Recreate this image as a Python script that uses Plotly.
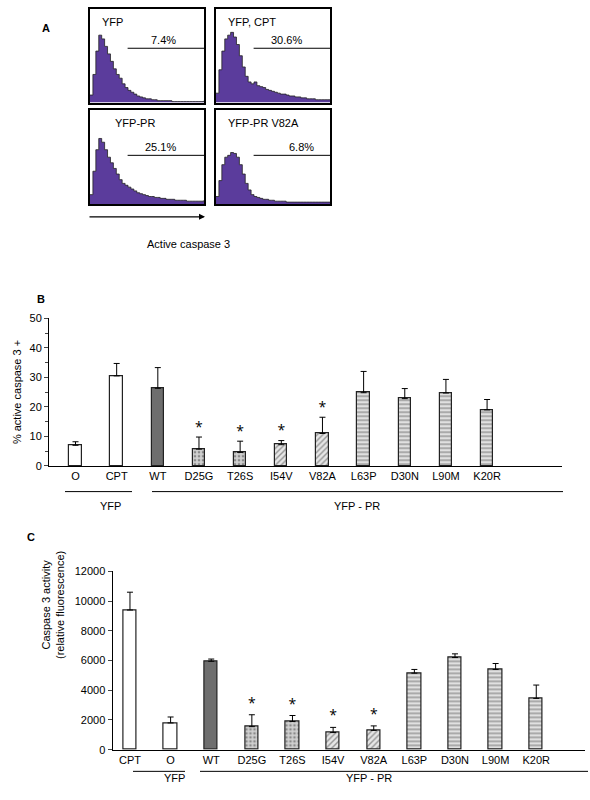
import plotly.graph_objects as go

# Panel A: flow histograms (bin heights, % of frame height), gate and percentages
hist_names = ["YFP", "YFP, CPT", "YFP-PR", "YFP-PR V82A"]
hist_pct = ["7.4%", "30.6%", "25.1%", "6.8%"]
hist_yfp = [8, 30, 55, 72, 68, 60, 52, 44, 36, 30, 26, 20, 16, 13, 11, 9, 7, 6, 5, 4, 4, 3, 3, 2, 2, 2, 2, 2, 1, 1, 1, 1, 1, 1, 1, 1, 1, 1, 1, 2]
hist_cpt = [10, 35, 55, 68, 72, 75, 70, 62, 50, 38, 28, 22, 20, 22, 18, 17, 16, 14, 13, 12, 11, 10, 9, 9, 8, 7, 7, 6, 6, 5, 5, 4, 4, 4, 3, 3, 3, 3, 3, 3]
hist_pr = [10, 35, 58, 70, 66, 58, 50, 44, 38, 32, 26, 22, 20, 18, 16, 14, 12, 11, 10, 9, 8, 8, 7, 7, 6, 6, 5, 5, 5, 4, 4, 4, 4, 3, 3, 3, 3, 3, 3, 4]
hist_v82a = [8, 25, 42, 50, 52, 55, 54, 50, 42, 32, 22, 15, 10, 8, 7, 6, 5, 5, 4, 4, 3, 3, 3, 3, 2, 2, 2, 2, 2, 2, 2, 2, 2, 2, 2, 2, 2, 2, 2, 2]
hists = [hist_yfp, hist_cpt, hist_pr, hist_v82a]

# Panel B
b_labels = ["O", "CPT", "WT", "D25G", "T26S", "I54V", "V82A", "L63P", "D30N", "L90M", "K20R"]
b_values = [7.0, 30.5, 26.3, 5.7, 4.6, 7.2, 11.0, 24.8, 22.8, 24.7, 19.0]
b_err = [1.2, 4.2, 7.0, 4.1, 3.8, 1.4, 5.5, 7.2, 3.4, 4.6, 3.5]
# Panel C
c_labels = ["CPT", "O", "WT", "D25G", "T26S", "I54V", "V82A", "L63P", "D30N", "L90M", "K20R"]
c_values = [9400, 1800, 5950, 1550, 1900, 1150, 1300, 5150, 6200, 5400, 3450]
c_err = [1200, 400, 150, 800, 400, 350, 300, 250, 250, 400, 900]
significant = [False, False, False, True, True, True, True, False, False, False, False]

W, H = 590, 800
def px(x): return x / W
def py(y): return 1 - y / H

fill_colors = ["white", "white", "#6e6e6e", "#d0d0d0", "#d0d0d0", "#e6e6e6", "#e6e6e6",
               "#e0e0e0", "#e0e0e0", "#e0e0e0", "#e0e0e0"]
shapes_b = ["", "", "", ".", ".", "/", "/", "-", "-", "-", "-"]

fig = go.Figure()
font = dict(family="Arial, Liberation Sans", size=11, color="black")

# histograms
boxes = [(90, 204, 3, 98), (216, 330, 3, 98), (90, 204, 106, 201), (216, 330, 106, 201)]
for i, (h, (x0, x1, y0, y1)) in enumerate(zip(hists, boxes)):
    n = i + 1
    key = "" if n == 1 else str(n)
    xa, ya = "x" + key, "y" + key
    fig.add_trace(go.Scatter(x=list(range(len(h))), y=h, mode="lines", fill="tozeroy",
                             fillcolor="#5b3c9c", line=dict(color="#222", width=0.8, shape="hv"),
                             xaxis=xa, yaxis=ya, showlegend=False))
    fig.update_layout(**{
        f"xaxis{key}": dict(domain=[px(x0), px(x1)], range=[0, len(h) - 1], showticklabels=False,
                            ticks="", showgrid=False, zeroline=False, showline=True, mirror=True,
                            linecolor="black", linewidth=1.5, anchor=ya),
        f"yaxis{key}": dict(domain=[py(y1), py(y0)], range=[0, 100], showticklabels=False,
                            ticks="", showgrid=False, zeroline=False, showline=True, mirror=True,
                            linecolor="black", linewidth=1.5, anchor=xa),
    })
    gate_y = 58 if i < 2 else 52
    fig.add_shape(type="line", xref=f"{xa} domain", yref=ya, x0=0.33, x1=1, y0=gate_y, y1=gate_y,
                  line=dict(color="black", width=1))
    fig.add_annotation(xref=f"{xa} domain", yref=ya, x=0.77 if i != 3 else 0.88, y=gate_y,
                       text=hist_pct[i], showarrow=False, xanchor="right", yanchor="bottom",
                       font=font)
    fig.add_annotation(xref=f"{xa} domain", yref=f"{ya} domain", x=0.09 if i != 2 else 0.2,
                       y=0.95, text=hist_names[i], showarrow=False, xanchor="left",
                       yanchor="top", font=font)

# Panel B bars
fig.add_trace(go.Bar(x=list(range(1, 12)), y=b_values, width=0.3,
                     marker=dict(color=fill_colors, line=dict(color="#222", width=1.2),
                                 pattern=dict(shape=shapes_b, fgcolor="#555", size=4, solidity=0.35)),
                     error_y=dict(type="data", array=b_err, arrayminus=[0] * 11, symmetric=False,
                                  color="black", thickness=1, width=3),
                     xaxis="x5", yaxis="y5", showlegend=False))
fig.add_trace(go.Scatter(x=[i + 1 for i in range(11) if significant[i]],
                         y=[b_values[i] + b_err[i] + 3 for i in range(11) if significant[i]],
                         mode="text", text="*", textfont=dict(size=14, color="black"),
                         xaxis="x5", yaxis="y5", showlegend=False))
# Panel C bars
fig.add_trace(go.Bar(x=list(range(1, 12)), y=c_values, width=0.33,
                     marker=dict(color=fill_colors, line=dict(color="#222", width=1.2),
                                 pattern=dict(shape=shapes_b, fgcolor="#555", size=4, solidity=0.35)),
                     error_y=dict(type="data", array=c_err, arrayminus=[0] * 11, symmetric=False,
                                  color="black", thickness=1, width=3),
                     xaxis="x6", yaxis="y6", showlegend=False))
fig.add_trace(go.Scatter(x=[i + 1 for i in range(11) if significant[i]],
                         y=[c_values[i] + c_err[i] + 700 for i in range(11) if significant[i]],
                         mode="text", text="*", textfont=dict(size=14, color="black"),
                         xaxis="x6", yaxis="y6", showlegend=False))

fig.update_layout(
    xaxis5=dict(domain=[px(49), px(562)], range=[0.356, 12.82], tickvals=list(range(1, 12)),
                ticktext=b_labels, ticks="", showline=True, linecolor="black", linewidth=1,
                showgrid=False, zeroline=False, tickfont=font, anchor="y5"),
    yaxis5=dict(domain=[py(467), py(317)], range=[0, 50], dtick=10, ticks="outside", ticklen=4,
                minor=dict(dtick=5, ticks="outside", ticklen=3), showline=True, linecolor="black",
                showgrid=False, zeroline=False, tickfont=font, anchor="x5"),
    xaxis6=dict(domain=[px(112.5), px(585)], range=[0.57, 12.2], tickvals=list(range(1, 12)),
                ticktext=c_labels, ticks="", showline=True, linecolor="black", linewidth=1,
                showgrid=False, zeroline=False, tickfont=font, anchor="y6"),
    yaxis6=dict(domain=[py(755), py(574)], range=[0, 12000], dtick=2000, tickformat="d",
                ticks="outside", ticklen=4, showline=True, linecolor="black", showgrid=False,
                zeroline=False, tickfont=font, anchor="x6"),
    width=W, height=H, margin=dict(l=0, r=0, t=0, b=0), autosize=False,
    plot_bgcolor="white", paper_bgcolor="white", bargap=0,
)

line = dict(color="black", width=1)
# arrow under histograms
fig.add_annotation(xref="paper", yref="paper", x=px(205), y=py(214), ax=-117, ay=0,
                   showarrow=True, arrowhead=2, arrowsize=1, arrowwidth=1.2, arrowcolor="black", text="")
texts = [
    ("A", 40, 14, True), ("B", 35, 297, True), ("C", 25, 547, True),
    ("Active caspase 3", 145, 233, False),
    ("YFP", 98, 508, False), ("YFP - PR", 357, 508, False),
    ("YFP", 162, 792, False), ("YFP - PR", 394, 792, False),
]
for t, x, y, b in texts:
    fig.add_annotation(xref="paper", yref="paper", x=px(x), y=py(y), showarrow=False,
                       text=f"<b>{t}</b>" if b else t, font=font)
fig.add_annotation(xref="paper", yref="paper", x=px(9), y=py(392), showarrow=False, textangle=-90,
                   text="% active caspase 3 +", font=font)
fig.add_annotation(xref="paper", yref="paper", x=px(38), y=py(665), showarrow=False, textangle=-90,
                   text="Caspase 3 activity<br>(relative fluorescence)", font=font)
for x0, x1, y in [(65, 132, 493), (152, 563, 493), (133, 185, 777), (200, 588, 777)]:
    fig.add_shape(type="line", xref="paper", yref="paper", x0=px(x0), x1=px(x1), y0=py(y), y1=py(y),
                  line=line)

fig.write_html("out.html", config={"displayModeBar": False},
               post_script="document.body.style.margin='0';")
